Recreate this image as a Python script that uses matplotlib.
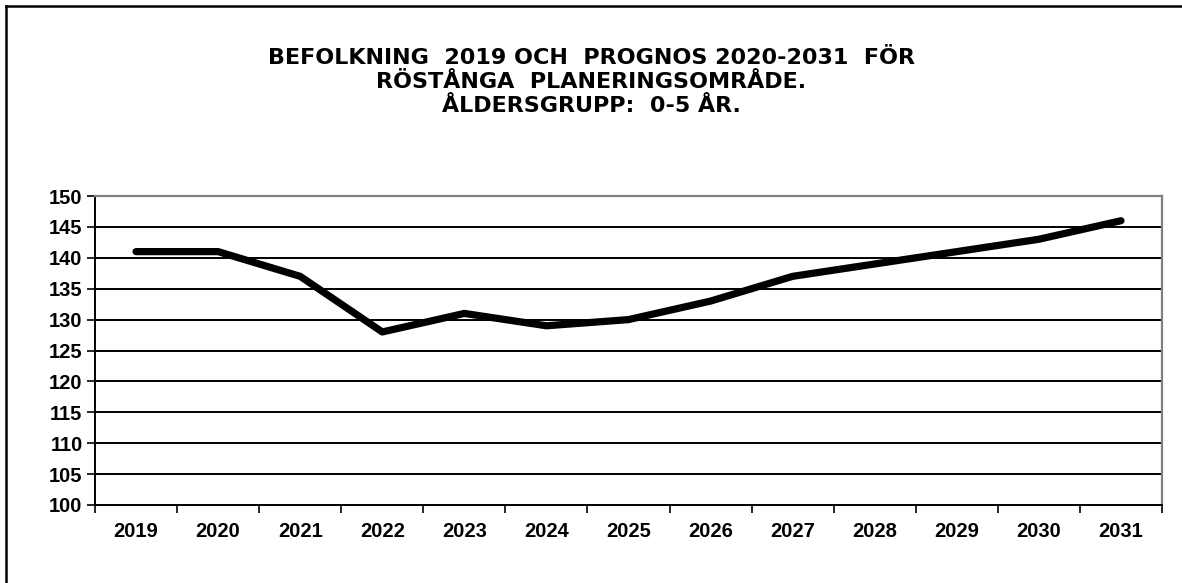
import numpy as np
import matplotlib
matplotlib.use("Agg")
import matplotlib.pyplot as plt

# data
years = ['2019', '2020', '2021', '2022', '2023', '2024', '2025',
         '2026', '2027', '2028', '2029', '2030', '2031']
population = [141, 141, 137, 128, 131, 129, 130, 133, 137, 139, 141, 143, 146]
y_ticks = list(range(100, 151, 5))
title_lines = ['BEFOLKNING  2019 OCH  PROGNOS 2020-2031  FÖR',
               'RÖSTÅNGA  PLANERINGSOMRÅDE.',
               'ÅLDERSGRUPP:  0-5 ÅR.']

plt.rcParams['font.family'] = ['Liberation Sans', 'DejaVu Sans']

fig = plt.figure(figsize=(11.82, 5.83), dpi=100)
ax = fig.add_axes([95 / 1182, 1 - 505 / 583, (1162 - 95) / 1182, (505 - 196) / 583])

x = np.arange(len(years))
ax.plot(x, population, color='black', lw=5.2, solid_capstyle='round',
        solid_joinstyle='round', zorder=3)

ax.set_xlim(-0.5, len(years) - 0.5)
ax.set_ylim(100, 150)
ax.set_yticks(y_ticks)
ax.set_yticklabels([str(v) for v in y_ticks], fontsize=14.5, fontweight='bold')
ax.set_xticks(x)
ax.set_xticklabels(years, fontsize=14.5, fontweight='bold')
ax.tick_params(axis='x', length=0, pad=12)
ax.set_xticks(np.arange(-0.5, len(years), 1), minor=True)
ax.tick_params(axis='x', which='minor', length=6, width=1.2, direction='out')
ax.tick_params(axis='y', length=6, width=1.2, direction='out', pad=3)

for v in y_ticks[1:-1]:
    ax.axhline(v, color='black', lw=1.4, zorder=1)

for side in ['top', 'right']:
    ax.spines[side].set_color('#808080')
    ax.spines[side].set_linewidth(1.6)
for side in ['left', 'bottom']:
    ax.spines[side].set_color('black')
    ax.spines[side].set_linewidth(1.4)

# title, one line at a time (wider font to match the stretched original)
for i, line in enumerate(title_lines):
    fig.text(0.5, 1 - (64 + 24 * i) / 583, line, ha='center', va='baseline',
             fontsize=16, fontweight='bold', family='DejaVu Sans')

# outer chart border (only top and left edges are inside the image)
fig.add_artist(plt.Line2D([6 / 1182, 6 / 1182], [0, 1 - 6 / 583], color='black', lw=1.8,
                          transform=fig.transFigure))
fig.add_artist(plt.Line2D([6 / 1182, 1], [1 - 6 / 583, 1 - 6 / 583], color='black', lw=1.8,
                          transform=fig.transFigure))

fig.savefig('out.png', dpi=100)
